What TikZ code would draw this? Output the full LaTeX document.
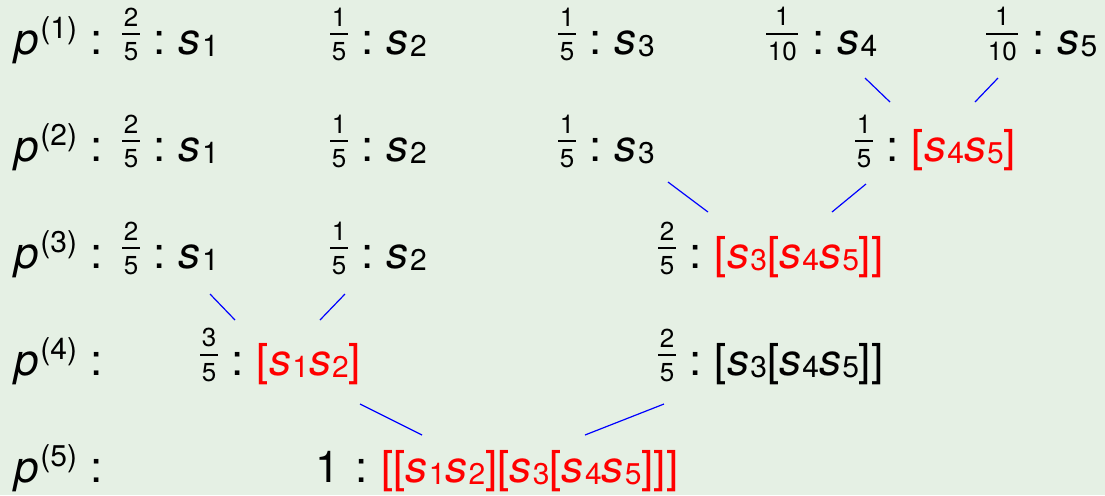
\documentclass[tikz,border=0pt]{standalone}
\usepackage{fontspec}
\setmainfont{TeX Gyre Heros}
\definecolor{bg}{RGB}{229,240,228}
\newcommand\sm{\fontsize{15}{15}\selectfont}
\newcommand\fs{\fontsize{13}{13}\selectfont}
\newcommand\sv[1]{\textit{s}\kern0.6pt\raisebox{-1pt}{\sm #1}}
\newcommand\pl[1]{\textit{p}\kern0.8pt\raisebox{8pt}{\sm (#1)}}
\newcommand\fr[2]{\raisebox{-3.4pt}{\vbox{\offinterlineskip\halign{\kern0.7pt\hfil##\hfil\kern0.7pt\cr\fs #1\cr\noalign{\kern3.5pt\hrule height0.9pt\kern3.8pt}\fs #2\cr}}}}
\newcommand\co{\hspace{7pt}:\hspace{6.5pt}}
\newcommand\rd[1]{\textcolor{red}{#1}}
\begin{document}
\begin{tikzpicture}[x=0.5pt,y=-0.5pt,
  every node/.style={inner sep=0pt, font=\fontsize{22}{26}\selectfont},
  ent/.style={anchor=base west},
  lab/.style={anchor=base west},
  col/.style={anchor=base},
  lnk/.style={blue, line width=0.6pt}]
\fill[bg] (0,0) rectangle (1105,495);
\useasboundingbox (0,0) rectangle (1105,495);
% row labels
\foreach \k/\y in {1/54,2/161,3/268,4/375,5/482}{
  \node[lab] (p\k) at (14,\y) {\pl{\k}};
  \node[col] (pc\k) at (97,\y) {:};
}
% row 1
\node[ent] (a1) at (122,54) {\fr{2}{5}\co\sv{1}};
\node[ent] (a2) at (330,54) {\fr{1}{5}\co\sv{2}};
\node[ent] (a3) at (558,54) {\fr{1}{5}\co\sv{3}};
\node[ent] (a4) at (766,54) {\fr{1}{10}\co\sv{4}};
\node[ent] (a5) at (986,54) {\fr{1}{10}\co\sv{5}};
% row 2
\node[ent] (b1) at (122,161) {\fr{2}{5}\co\sv{1}};
\node[ent] (b2) at (330,161) {\fr{1}{5}\co\sv{2}};
\node[ent] (b3) at (558,161) {\fr{1}{5}\co\sv{3}};
\node[ent] (b4) at (855,161) {\fr{1}{5}\co\rd{[\sv{4}\sv{5}]}};
% row 3
\node[ent] (c1) at (122,268) {\fr{2}{5}\co\sv{1}};
\node[ent] (c2) at (330,268) {\fr{1}{5}\co\sv{2}};
\node[ent] (c3) at (658,268) {\fr{2}{5}\co\rd{[\sv{3}[\sv{4}\sv{5}]]}};
% row 4
\node[ent] (d1) at (200,375) {\fr{3}{5}\co\rd{[\sv{1}\sv{2}]}};
\node[ent] (d2) at (658,375) {\fr{2}{5}\co[\sv{3}[\sv{4}\sv{5}]]};
% row 5
\node[ent] (e1) at (315,482) {1\hspace{1pt}\co\rd{[[\sv{1}\sv{2}][\sv{3}[\sv{4}\sv{5}]]]}};
% connector ends
\coordinate (a4s) at (865,78);  \coordinate (b4n1) at (890,102);
\coordinate (a5s) at (998,78);  \coordinate (b4n2) at (975,102);
\coordinate (b3s) at (668,182); \coordinate (c3n1) at (708,212);
\coordinate (b4s) at (866,184); \coordinate (c3n2) at (832,212);
\coordinate (c1s) at (210,294); \coordinate (d1n1) at (235,320);
\coordinate (c2s) at (345,294); \coordinate (d1n2) at (320,320);
\coordinate (d1s) at (360,404); \coordinate (e1n1) at (422,435);
\coordinate (d2s) at (664,404); \coordinate (e1n2) at (585,435);
\draw[lnk] (a4s) -- (b4n1);
\draw[lnk] (a5s) -- (b4n2);
\draw[lnk] (b3s) -- (c3n1);
\draw[lnk] (b4s) -- (c3n2);
\draw[lnk] (c1s) -- (d1n1);
\draw[lnk] (c2s) -- (d1n2);
\draw[lnk] (d1s) -- (e1n1);
\draw[lnk] (d2s) -- (e1n2);
\end{tikzpicture}
\end{document}
